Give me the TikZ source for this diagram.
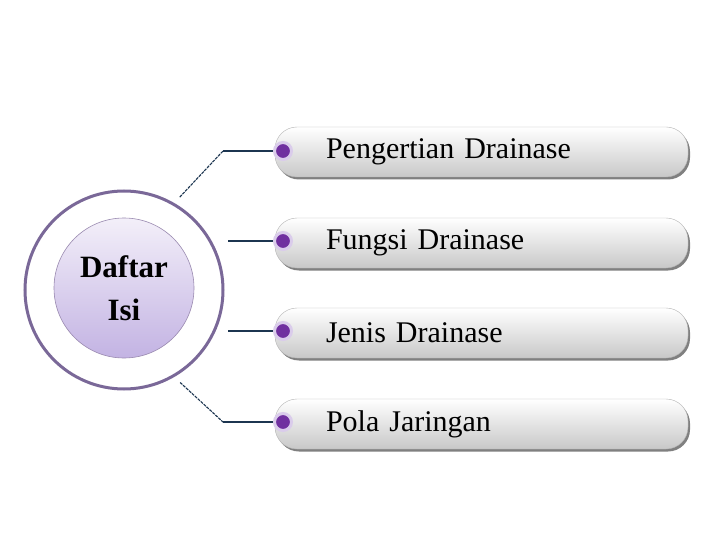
\documentclass[tikz,border=0pt]{standalone}
\usepackage{fontspec}
\setmainfont{Liberation Serif}
\usetikzlibrary{shadows}
\definecolor{Ring}{HTML}{7A6898}
\definecolor{HubTop}{HTML}{F3EFF9}
\definecolor{HubBot}{HTML}{C3B3E3}
\definecolor{HubEdge}{HTML}{9A8AB0}
\definecolor{Wire}{HTML}{1C3550}
\definecolor{Dot}{HTML}{7030A0}
\definecolor{Halo}{HTML}{DACCEB}
\definecolor{BarBot}{HTML}{C8C8C8}
\definecolor{BarEdge}{HTML}{B5B5B5}
\definecolor{Shade}{HTML}{808080}

\begin{document}
\begin{tikzpicture}[x=1pt,y=-1pt,bar/.style={rectangle,rounded corners=22pt,draw=BarEdge,top color=white,bottom color=BarBot,minimum width=413pt,minimum height=50pt,text width=311pt,inner xsep=51pt,align=left,font=\fontsize{30}{34}\selectfont,drop shadow={shadow xshift=2pt,shadow yshift=-2.5pt,fill=Shade,opacity=1}},dot/.style={circle,fill=Dot,draw=Halo,line width=3pt,minimum size=17pt,inner sep=0pt},wire/.style={draw=Wire,line width=1.4pt},link/.style={draw=Wire,line width=1.1pt,dash pattern=on 3pt off 1pt}]
\useasboundingbox[fill=white] (0,0) rectangle (720,540);
\node[circle,draw=Ring,line width=3pt,fill=white,minimum size=198pt] (hub) at (124,290) {};
\node[circle,draw=HubEdge,line width=0.6pt,top color=HubTop,bottom color=HubBot,minimum size=140pt,align=center,font=\bfseries\fontsize{31}{43}\selectfont] (core) at (124,288) {Daftar\\Isi};
\node[bar] (b1) at (481.5,152) {Pengertian Drainase};
\node[bar] (b2) at (481.5,243) {Fungsi Drainase};
\node[bar] (b3) at (481.5,333) {Jenis Drainase};
\node[bar] (b4) at (481.5,424) {Pola Jaringan};
\node[dot] (d1) at (283,151) {};
\node[dot] (d2) at (283,241) {};
\node[dot] (d3) at (283,331) {};
\node[dot] (d4) at (283,422) {};
\coordinate (e1) at (223,151);
\coordinate (e2) at (228,241);
\coordinate (e3) at (228,331);
\coordinate (e4) at (223,422);
\draw[link,shorten <=8pt] (hub.60) -- (e1);
\draw[link,shorten <=8pt] (hub.-60) -- (e4);
\draw[wire] (e1) -- (d1);
\draw[wire] (e2) -- (d2);
\draw[wire] (e3) -- (d3);
\draw[wire] (e4) -- (d4);
\end{tikzpicture}
\end{document}
